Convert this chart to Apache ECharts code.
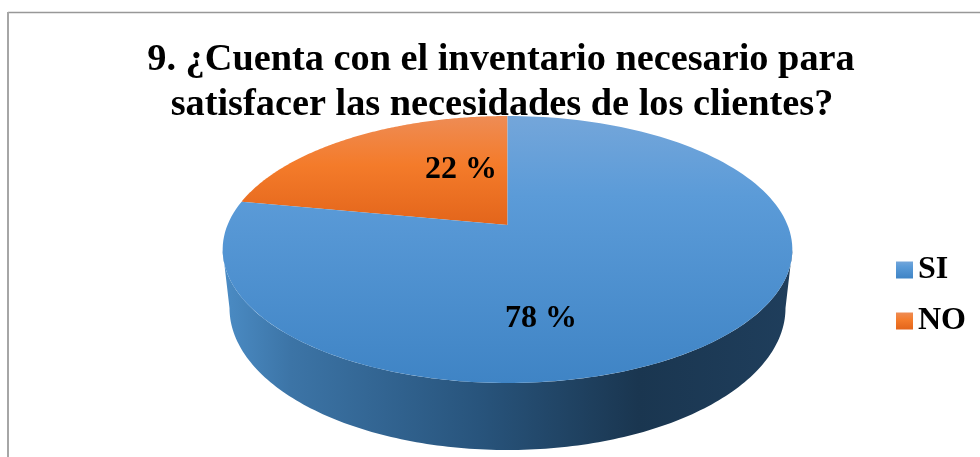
<!DOCTYPE html>
<html>
<head>
<meta charset="utf-8">
<style>html,body{margin:0;padding:0;background:#fff}#c{width:980px;height:457px}</style>
<script src="https://cdn.jsdelivr.net/npm/echarts@6/dist/echarts.min.js"></script>
</head>
<body>
<div id="c"></div>
<script>
var categories = ['SI', 'NO'];
var values = [78, 22];
var titleLines = ['9. ¿Cuenta con el inventario necesario para', 'satisfacer las necesidades de los clientes?'];
var valueLabels = ['78 %', '22 %'];

var FONT = '"Liberation Serif","Times New Roman",serif';
var total = values[0] + values[1];
var CX = 507.5, CY = 225, RX = 280, RY = 129, K = 0.1835;
var LOW_RX = 278, LOW_RY = 142, LOW_CY = 308;

function project(angle, r) {
  var u = Math.sin(angle) * r, v = -Math.cos(angle) * r, d = 1 - K * v;
  return [CX + RX * u / d, CY + RY * v / d];
}
function arc(a0, a1) {
  var pts = [], n = 160;
  for (var i = 0; i <= n; i++) pts.push(project(a0 + (a1 - a0) * i / n, 1));
  return pts;
}
function lowerEdge() {
  var pts = [], n = 160;
  for (var i = 0; i <= n; i++) {
    var a = Math.PI * (1.5 - i / n);
    pts.push([CX + LOW_RX * Math.sin(a), LOW_CY - LOW_RY * Math.cos(a)]);
  }
  return pts;
}
function vGrad(stops) {
  return new echarts.graphic.LinearGradient(0, 0, 0, 1, stops.map(function (s) { return { offset: s[0], color: s[1] }; }));
}
function hGrad(stops) {
  return new echarts.graphic.LinearGradient(0, 0, 1, 0, stops.map(function (s) { return { offset: s[0], color: s[1] }; }));
}
var topFill = [
  vGrad([[0, '#74a6da'], [0.3, '#5b9bd8'], [1, '#3f84c5']]),
  vGrad([[0, '#ee8c55'], [0.45, '#f47b2a'], [1, '#e3651b']])
];
var wallFill = hGrad([[0, '#4b8cc5'], [0.12, '#3c74a6'], [0.45, '#28547c'], [0.73, '#1a3650'], [1, '#1f3e5c']]);
var labelPos = [[541, 319], [461, 170]];

function slice(idx) {
  var before = 0;
  for (var i = 0; i < idx; i++) before += values[i];
  return {
    a0: before / total * Math.PI * 2,
    a1: (before + values[idx]) / total * Math.PI * 2
  };
}

function renderSlice(idx) {
  return function () {
    var s = slice(idx), children = [];
    var rim = arc(s.a0, s.a1);
    if (idx === 0) {
      // The visible wall runs between the two silhouette points of the rim.
      var right = Math.acos(-K), left = Math.PI * 2 - right;
      var wallTop = arc(Math.max(s.a0, right), Math.min(s.a1, left));
      children.push({ type: 'polygon', shape: { points: wallTop.concat(lowerEdge()) }, style: { fill: wallFill } });
    }
    children.push({ type: 'polygon', shape: { points: rim.concat([project(0, 0)]) }, style: { fill: topFill[idx] } });
    children.push({
      type: 'text', z2: 10,
      style: { x: labelPos[idx][0], y: labelPos[idx][1], text: valueLabels[idx], font: 'bold 32px ' + FONT, fill: '#000', align: 'center', verticalAlign: 'middle' }
    });
    return { type: 'group', children: children };
  };
}

var chart = echarts.init(document.getElementById('c'), null, { renderer: 'canvas' });
chart.setOption({
  animation: false,
  backgroundColor: '#fff',
  graphic: [
    { type: 'line', z: -1, shape: { x1: 8, y1: 12.5, x2: 980, y2: 12.5 }, style: { stroke: '#989898', lineWidth: 1.5 } },
    { type: 'line', z: -1, shape: { x1: 8, y1: 12, x2: 8, y2: 457 }, style: { stroke: '#a6a6a6', lineWidth: 2 } },
    { type: 'text', z: 1, style: { x: 501, y: 60, text: titleLines[0], font: 'bold 38.3px ' + FONT, fill: '#000', align: 'center', verticalAlign: 'middle' } },
    { type: 'text', z: 1, style: { x: 502, y: 105, text: titleLines[1], font: 'bold 38.3px ' + FONT, fill: '#000', align: 'center', verticalAlign: 'middle' } }
  ],
  legend: {
    orient: 'vertical', left: 891, top: 249, itemWidth: 17, itemHeight: 17, itemGap: 19,
    icon: 'rect', selectedMode: false,
    textStyle: { fontFamily: FONT, fontWeight: 'bold', fontSize: 32, color: '#000' },
    data: categories.map(function (c, i) {
      return { name: c, itemStyle: { color: topFill[i] } };
    })
  },
  series: categories.map(function (c, i) {
    return {
      type: 'custom', name: c, coordinateSystem: 'none', silent: true, z: 5 - i,
      data: [values[i]], renderItem: renderSlice(i), itemStyle: { color: topFill[i] }
    };
  })
});
</script>
</body>
</html>
